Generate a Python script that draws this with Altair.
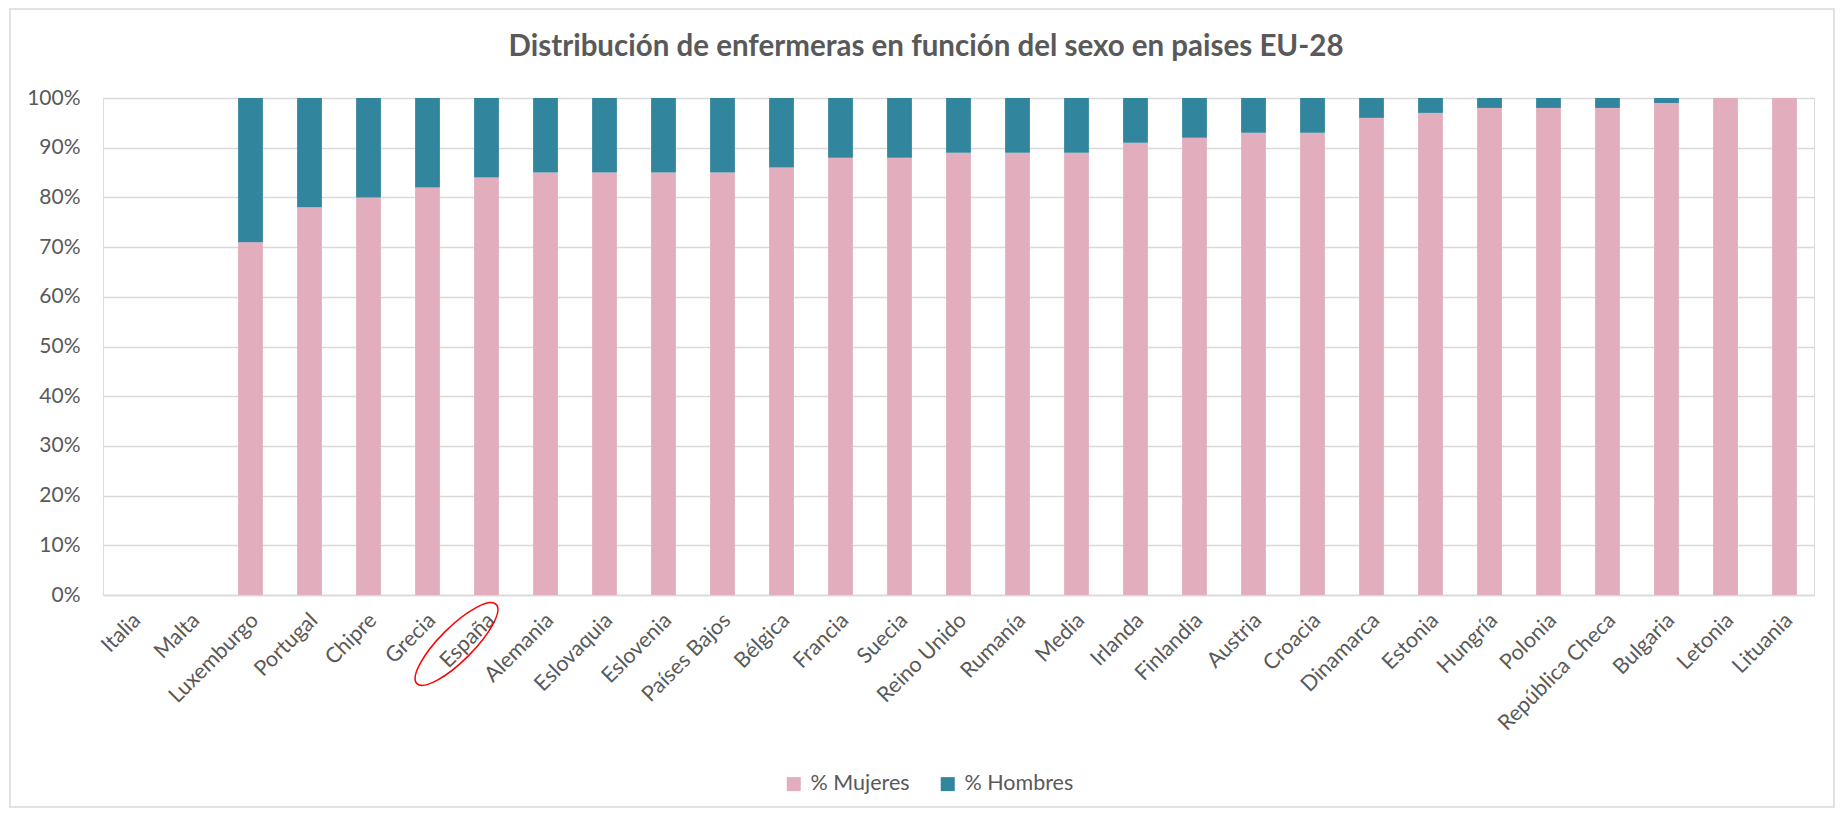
import altair as alt
import pandas as pd

paises = ["Italia", "Malta", "Luxemburgo", "Portugal", "Chipre", "Grecia", "España",
          "Alemania", "Eslovaquia", "Eslovenia", "Países Bajos", "Bélgica", "Francia",
          "Suecia", "Reino Unido", "Rumanía", "Media", "Irlanda", "Finlandia", "Austria",
          "Croacia", "Dinamarca", "Estonia", "Hungría", "Polonia", "República Checa",
          "Bulgaria", "Letonia", "Lituania"]
mujeres = [None, None, 71, 78, 80, 82, 84, 85, 85, 85, 85, 86, 88, 88, 89, 89, 89, 91, 92,
           93, 93, 96, 97, 98, 98, 98, 99, 100, 100]
hombres = [None, None, 29, 22, 20, 18, 16, 15, 15, 15, 15, 14, 12, 12, 11, 11, 11, 9, 8,
           7, 7, 4, 3, 2, 2, 2, 1, 0, 0]
series = ["% Mujeres", "% Hombres"]
colores = ["#E2ADBD", "#31859C"]
y_ticks = [0, 10, 20, 30, 40, 50, 60, 70, 80, 90, 100]
titulo = "Distribución  de enfermeras en función del sexo en paises EU-28"
resaltado = ["España"]

rows = []
for p, m, h in zip(paises, mujeres, hombres):
    rows.append({"pais": p, "serie": series[0], "valor": m, "orden": 0})
    rows.append({"pais": p, "serie": series[1], "valor": h, "orden": 1})
df = pd.DataFrame(rows)

W = 1711
H = 497
FONT = "Lato"
GRAY = "#595959"

xscale = alt.Scale(domain=paises, paddingInner=0.58, paddingOuter=0.29)

bars = alt.Chart(df).mark_bar().encode(
    x=alt.X("pais:N", scale=xscale, sort=paises, title=None,
            axis=alt.Axis(labelAngle=-45, labelAlign="right", labelBaseline="middle",
                          labelPadding=22, labelOffset=5, ticks=False,
                          domainColor="#d9d9d9", domainWidth=1.5,
                          labelFont=FONT, labelFontSize=21.5, labelColor=GRAY)),
    y=alt.Y("valor:Q", stack="zero", scale=alt.Scale(domain=[0, 100], nice=False),
            title=None,
            axis=alt.Axis(values=y_ticks, labelExpr="datum.value + '%'", ticks=False,
                          domain=False, gridColor="#d9d9d9", gridWidth=1.5,
                          labelPadding=23, labelFont=FONT, labelFontSize=21,
                          labelColor=GRAY)),
    color=alt.Color("serie:N", scale=alt.Scale(domain=series, range=colores),
                    legend=alt.Legend(title=None, orient="none", direction="horizontal",
                                      legendX=680, legendY=675, symbolType="square",
                                      symbolSize=196, symbolStrokeWidth=0,
                                      labelOffset=6, columnPadding=27, padding=0,
                                      labelFont=FONT, labelFontSize=21.5,
                                      labelColor=GRAY)),
    order=alt.Order("orden:Q"),
)

ellipse_path = ("M -1 0 C -1 -0.1657 -0.5523 -0.3 0 -0.3 C 0.5523 -0.3 1 -0.1657 1 0 "
                "C 1 0.1657 0.5523 0.3 0 0.3 C -0.5523 0.3 -1 0.1657 -1 0 Z")
marca = alt.Chart(pd.DataFrame({"pais": resaltado})).mark_point(
    shape=ellipse_path, size=12544, angle=315, filled=False, stroke="#FF0000",
    strokeWidth=1.5, opacity=1, xOffset=-30
).encode(
    x=alt.X("pais:N", scale=xscale, sort=paises),
    y=alt.value(546),
)

borde = alt.Chart(pd.DataFrame({"a": [0]})).mark_rect(
    fillOpacity=0, stroke="#d9d9d9", strokeWidth=1.5
).encode(
    x=alt.value(-93), x2=alt.value(1731), y=alt.value(-89), y2=alt.value(709)
)

titulo_txt = alt.Chart(pd.DataFrame({"t": [titulo]})).mark_text(
    font=FONT, fontSize=29.5, fontWeight="bold", color=GRAY, align="center",
    baseline="alphabetic"
).encode(
    text="t:N", x=alt.value(823), y=alt.value(-42)
)

chart = alt.layer(borde, bars, marca, titulo_txt).properties(
    width=W, height=H,
    autosize=alt.AutoSizeParams(type="none"),
    padding={"left": 95, "top": 90, "right": 21, "bottom": 213},
).configure_view(stroke=None).configure(background="white")

chart.save("out.html", embed_options={"renderer": "svg", "actions": False})
